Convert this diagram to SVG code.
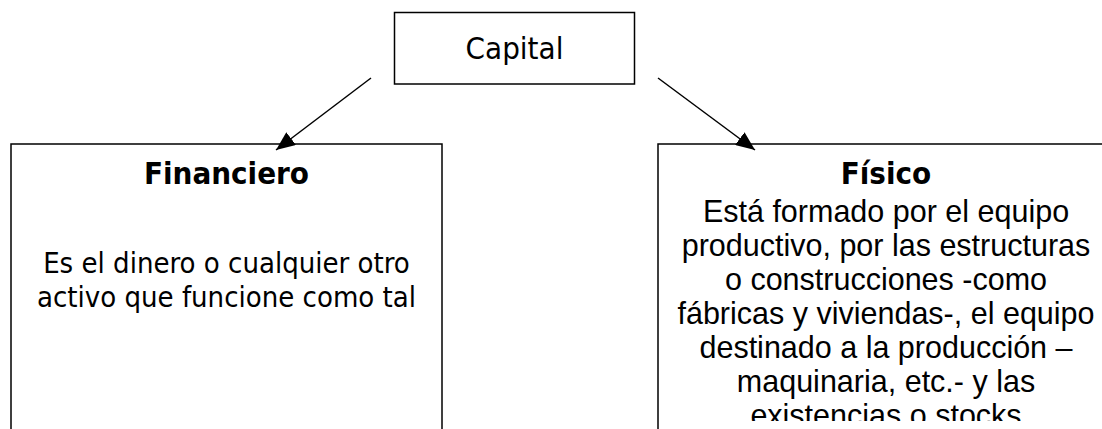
<svg xmlns="http://www.w3.org/2000/svg" width="1102" height="429" viewBox="0 0 1102 429">
  <style>
    .box { fill: #ffffff; stroke: #000000; stroke-width: 1.5; }
    .edge { stroke: #000000; stroke-width: 1.5; fill: none; }
    .tah { font-family: "DejaVu Sans Condensed", "DejaVu Sans", sans-serif; font-stretch: condensed; fill: #000000; text-anchor: middle; }
    .title { font-weight: bold; font-size: 31px; }
    .ari { font-family: "Liberation Sans", Arial, sans-serif; font-size: 30.5px; fill: #000000; text-anchor: middle; }
  </style>
  <defs>
    <marker id="arrow" markerUnits="userSpaceOnUse" markerWidth="20" markerHeight="16" refX="19" refY="8" orient="auto">
      <path d="M0,0 L19,8 L0,16 Z" fill="#000000"/>
    </marker>
    <clipPath id="clipPhys">
      <rect x="658" y="144" width="460" height="277"/>
    </clipPath>
  </defs>
  <rect width="1102" height="429" fill="#ffffff"/>

  <g id="capital">
    <rect class="box" x="394.5" y="12.5" width="240" height="71.5"/>
    <text class="tah" x="514.5" y="59" font-size="31">Capital</text>
  </g>

  <g id="financiero">
    <rect class="box" x="11" y="144" width="431" height="300"/>
    <text class="tah title" x="226.5" y="184">Financiero</text>
    <text class="tah" x="226.5" y="273" font-size="29">Es el dinero o cualquier otro</text>
    <text class="tah" x="226.5" y="307" font-size="29">activo que funcione como tal</text>
  </g>

  <g id="fisico">
    <rect class="box" x="658" y="144" width="460" height="300"/>
    <text class="tah title" x="886" y="184">Físico</text>
    <g clip-path="url(#clipPhys)">
      <text class="ari" x="886" y="222">Está formado por el equipo</text>
      <text class="ari" x="886" y="256">productivo, por las estructuras</text>
      <text class="ari" x="886" y="290">o construcciones -como</text>
      <text class="ari" x="886" y="324">fábricas y viviendas-, el equipo</text>
      <text class="ari" x="886" y="358">destinado a la producción –</text>
      <text class="ari" x="886" y="392">maquinaria, etc.- y las</text>
      <text class="ari" x="886" y="426">existencias o stocks</text>
    </g>
  </g>

  <g id="connectors">
    <line class="edge" x1="371" y1="78" x2="276" y2="150" marker-end="url(#arrow)"/>
    <line class="edge" x1="658" y1="78" x2="755" y2="150" marker-end="url(#arrow)"/>
  </g>
</svg>
